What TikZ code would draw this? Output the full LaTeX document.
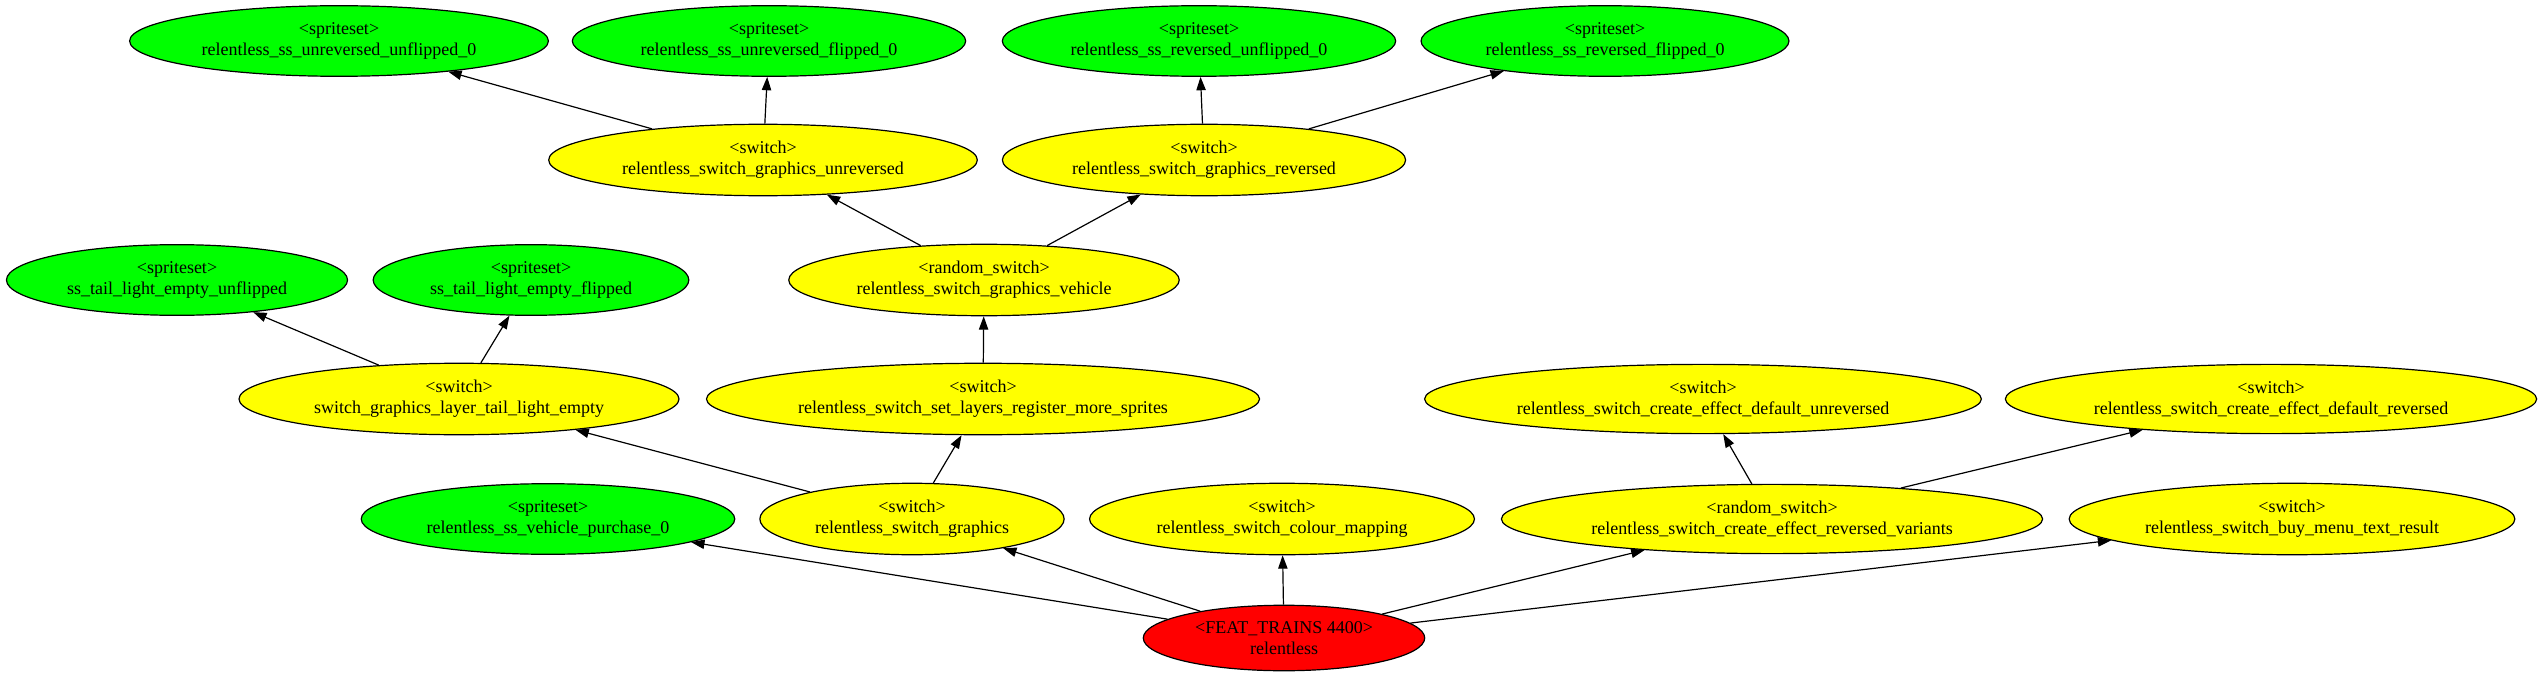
\documentclass[tikz,border=0pt]{standalone}
\usepackage{fontspec}
\setmainfont{Liberation Serif}
\usepackage{xcolor}
\usepackage{tikz}
\usetikzlibrary{shapes.geometric}
\usetikzlibrary{arrows.meta}
\definecolor{ssgreen}{HTML}{00FF00}
\definecolor{swyellow}{HTML}{FFFF00}
\definecolor{featred}{HTML}{FF0000}
\tikzset{
  gvnode/.style={ellipse, draw=black, line width=0.9pt, align=center,
    inner xsep=0.11in, inner ysep=0.07in,
    font=\fontsize{13.5}{15.5}\selectfont},
  spriteset/.style={gvnode, fill=ssgreen},
  switchnode/.style={gvnode, fill=swyellow},
  featnode/.style={gvnode, fill=featred},
  dep/.style={-{Triangle[length=10pt,width=7pt]}, line width=0.9pt}
}

\begin{document}
\begin{tikzpicture}[x=0.75pt, y=-0.75pt]
	\useasboundingbox (0, 0) rectangle (2545, 681);
	% top row
	\node [spriteset] (uu0) at (339, 41) {<spriteset>\\relentless\_ss\_unreversed\_unflipped\_0};
	\node [spriteset] (uf0) at (769, 41) {<spriteset>\\relentless\_ss\_unreversed\_flipped\_0};
	\node [spriteset] (ru0) at (1199, 41) {<spriteset>\\relentless\_ss\_reversed\_unflipped\_0};
	\node [spriteset] (rf0) at (1605, 41) {<spriteset>\\relentless\_ss\_reversed\_flipped\_0};
	% second row
	\node [switchnode] (sgu) at (763, 160) {<switch>\\relentless\_switch\_graphics\_unreversed};
	\node [switchnode] (sgr) at (1204, 160) {<switch>\\relentless\_switch\_graphics\_reversed};
	% third row
	\node [spriteset] (tlu) at (177, 280) {<spriteset>\\ss\_tail\_light\_empty\_unflipped};
	\node [spriteset] (tlf) at (531, 280) {<spriteset>\\ss\_tail\_light\_empty\_flipped};
	\node [switchnode] (rsv) at (984, 280) {<random\_switch>\\relentless\_switch\_graphics\_vehicle};
	% fourth row
	\node [switchnode] (sgl) at (459, 399) {<switch>\\switch\_graphics\_layer\_tail\_light\_empty};
	\node [switchnode] (ssl) at (983, 399) {<switch>\\relentless\_switch\_set\_layers\_register\_more\_sprites};
	\node [switchnode] (ceu) at (1703, 399) {<switch>\\relentless\_switch\_create\_effect\_default\_unreversed};
	\node [switchnode] (cer) at (2271, 399) {<switch>\\relentless\_switch\_create\_effect\_default\_reversed};
	% fifth row
	\node [spriteset] (vp0) at (548, 519) {<spriteset>\\relentless\_ss\_vehicle\_purchase\_0};
	\node [switchnode] (sg) at (912, 519) {<switch>\\relentless\_switch\_graphics};
	\node [switchnode] (cm) at (1282, 519) {<switch>\\relentless\_switch\_colour\_mapping};
	\node [switchnode] (rcv) at (1772, 519) {<random\_switch>\\relentless\_switch\_create\_effect\_reversed\_variants};
	\node [switchnode] (bm) at (2292, 519) {<switch>\\relentless\_switch\_buy\_menu\_text\_result};
	% root
	\node [featnode] (ft) at (1284, 638) {<FEAT\_TRAINS 4400>\\relentless};

	\foreach \from/\to in {ft/vp0, ft/sg, ft/cm, ft/rcv, ft/bm,
	    sg/sgl, sg/ssl, ssl/rsv, rsv/sgu, rsv/sgr,
	    sgu/uu0, sgu/uf0, sgr/ru0, sgr/rf0,
	    sgl/tlu, sgl/tlf, rcv/ceu, rcv/cer}
		\draw [dep] (\from) -- (\to);
\end{tikzpicture}
\end{document}
